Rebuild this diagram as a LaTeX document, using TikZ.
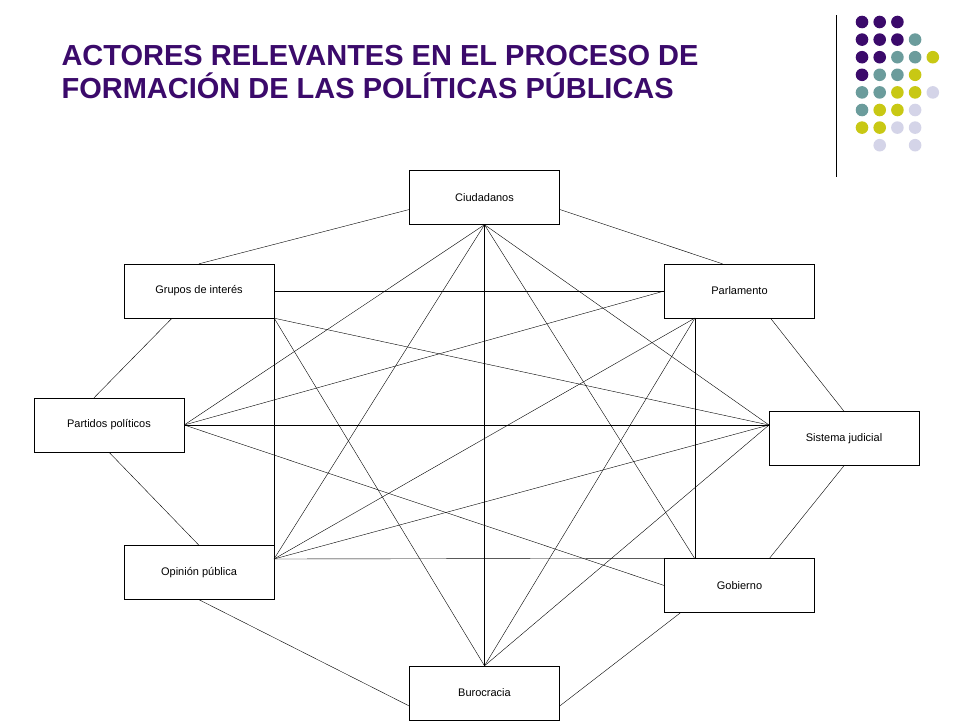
\documentclass[tikz,border=0pt]{standalone}
\usepackage{fontspec}
\setmainfont{Liberation Sans}
\definecolor{titlepurple}{HTML}{3B0A6B}
\definecolor{dotpurple}{HTML}{3B0A6B}
\definecolor{dotteal}{HTML}{6B9C9C}
\definecolor{dotyellow}{HTML}{C8C814}
\definecolor{dotlilac}{HTML}{D4D4E8}
\begin{document}
\begin{tikzpicture}[x=1pt,y=-1pt]
\tikzstyle{actor}=[draw,black,fill=white,minimum width=150pt,minimum height=54pt,inner sep=0pt,font=\fontsize{11}{13}\selectfont]
\useasboundingbox (0,0) rectangle (960,720);
% title
\node [anchor=west,text=titlepurple,font=\bfseries\fontsize{29}{33}\selectfont,align=left] (title) at (58,72) {ACTORES RELEVANTES EN EL PROCESO DE\\FORMACIÓN DE LAS POLÍTICAS PÚBLICAS};
% ornament
\draw [black] (836,15) -- (836,177);
\foreach \row/\cols/\col in {0/0/dotpurple,0/1/dotpurple,0/2/dotpurple,
  1/0/dotpurple,1/1/dotpurple,1/2/dotpurple,1/3/dotteal,
  2/0/dotpurple,2/1/dotpurple,2/2/dotteal,2/3/dotteal,2/4/dotyellow,
  3/0/dotpurple,3/1/dotteal,3/2/dotteal,3/3/dotyellow,
  4/0/dotteal,4/1/dotteal,4/2/dotyellow,4/3/dotyellow,4/4/dotlilac,
  5/0/dotteal,5/1/dotyellow,5/2/dotyellow,5/3/dotlilac,
  6/0/dotyellow,6/1/dotyellow,6/2/dotlilac,6/3/dotlilac,
  7/1/dotlilac,7/3/dotlilac}
  \fill [\col] (862+17.7*\cols,22+17.6*\row) circle (6.3);
% actors
\node [actor] (ciud) at (484.5,197.5) {Ciudadanos};
\node [actor] (grupos) at (199,291) {Grupos de interés};
\node [actor] (parl) at (739.5,291) {Parlamento};
\node [actor] (partidos) at (109,425) {Partidos políticos};
\node [actor] (sistema) at (844,438.5) {Sistema judicial};
\node [actor] (opinion) at (199,572.5) {Opinión pública};
\node [actor] (gob) at (739.5,585.5) {Gobierno};
\node [actor] (buro) at (484.5,693) {Burocracia};
% hubs
\coordinate (sj) at (769,425);
\coordinate (op) at (274,559);
\coordinate (pl) at (695,318);
\coordinate (gb) at (695,559);
% outer ring
\draw (grupos.north) -- ([yshift=-12pt]ciud.west);
\draw ([yshift=-12pt]ciud.east) -- ([xshift=-17pt]parl.north);
\draw ([xshift=-27pt]grupos.south) -- ([xshift=-15pt]partidos.north);
\draw ([xshift=31pt]parl.south) -- (sistema.north);
\draw (partidos.south) -- (opinion.north);
\draw (sistema.south) -- ([xshift=30pt]gob.north);
\draw (opinion.south) -- ([yshift=-13pt]buro.west);
\draw ([xshift=-59pt]gob.south) -- ([yshift=-13pt]buro.east);
% inner links
\draw (ciud.south) -- (partidos.east);
\draw (ciud.south) -- (op);
\draw (ciud.south) -- (buro.north);
\draw (ciud.south) -- (gb);
\draw (ciud.south) -- (sj);
\draw (buro.north) -- (grupos.south east);
\draw (buro.north) -- (pl);
\draw (buro.north) -- (sj);
\draw (grupos.east) -- (parl.west);
\draw (grupos.south east) -- (sj);
\draw (grupos.south east) -- (opinion.north east);
\draw (partidos.east) -- (parl.west);
\draw (partidos.east) -- (sj);
\draw (partidos.east) -- (gob.west);
\draw (op) -- (gob.north west);
\draw (op) -- (sj);
\draw (op) -- (pl);
\draw (pl) -- (gb);
\end{tikzpicture}
\end{document}
